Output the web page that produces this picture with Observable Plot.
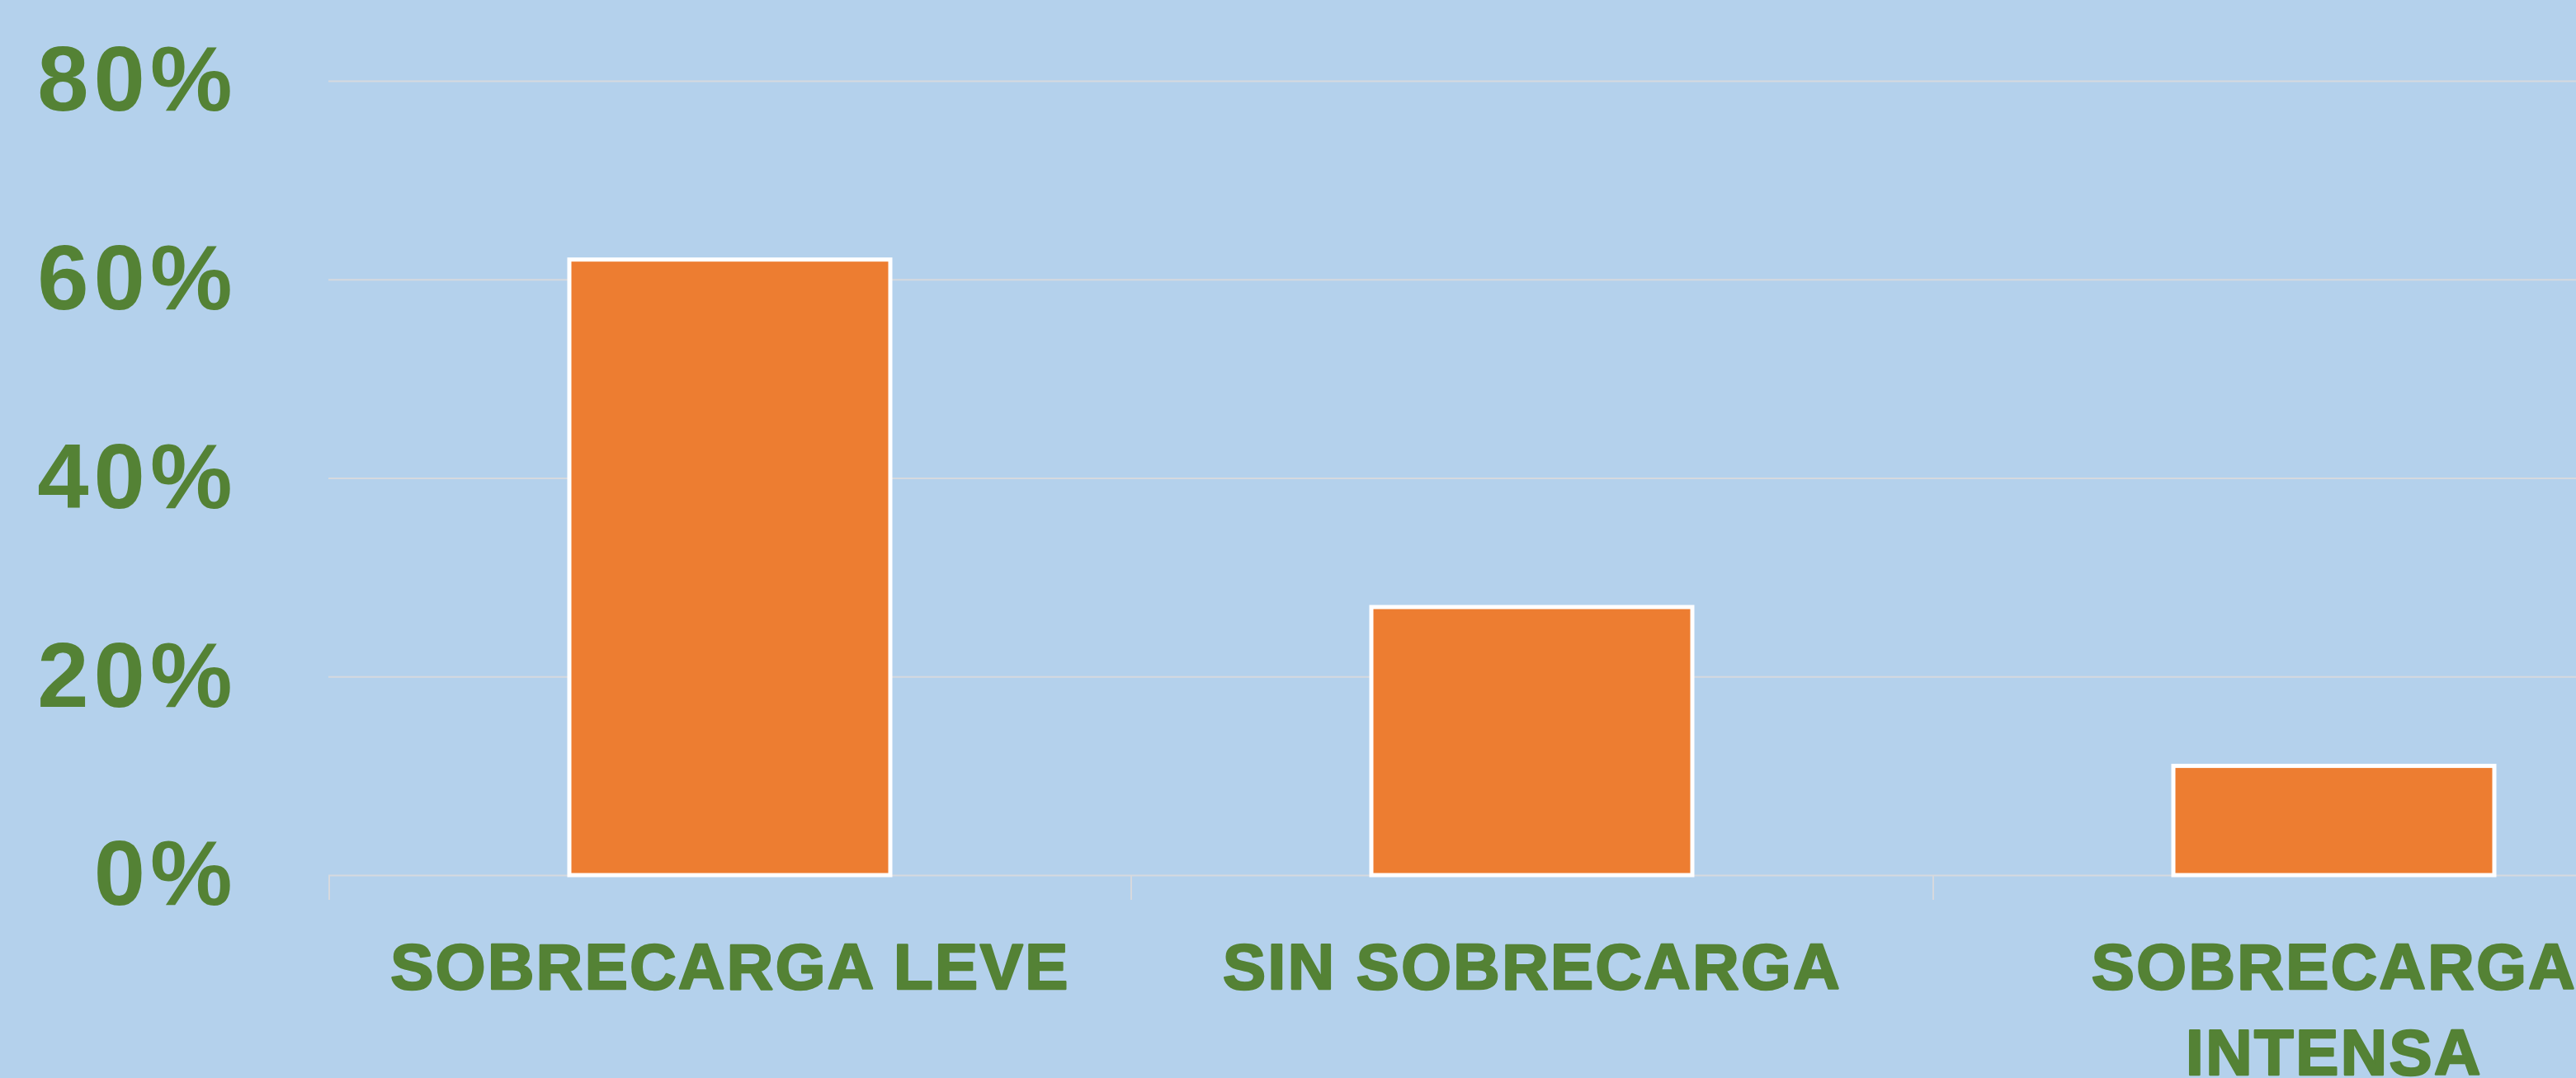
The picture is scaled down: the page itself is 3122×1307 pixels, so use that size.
<!DOCTYPE html>
<html>
<head>
<meta charset="utf-8">
<script src="https://cdn.jsdelivr.net/npm/d3@7"></script>
<script src="https://cdn.jsdelivr.net/npm/@observablehq/plot@0.6"></script>
<style>
  html, body { margin: 0; padding: 0; background: #b4d1ec; overflow: hidden; }
  #chart svg { display: block; }
  #chart g[aria-label="y-axis tick label"] text { letter-spacing: 6px; }
  #chart g[aria-label="text"] text { letter-spacing: 2.5px; }
</style>
</head>
<body>
<div id="chart"></div>
<script>
const categories = ["SOBRECARGA LEVE", "SIN SOBRECARGA", "SOBRECARGA INTENSA"];
const values = [62, 27, 11];
const yTicks = [0, 20, 40, 60, 80];

const data = categories.map((c, i) => ({category: c, value: values[i]}));

const W = 3122, H = 1307;
const left = 398, step = 972;
const green = "#548235";
const font = "'Liberation Sans', Arial, sans-serif";

const chart = Plot.plot({
  width: W,
  height: H,
  marginLeft: left,
  marginRight: 0,
  marginTop: 98,
  marginBottom: 246,
  style: {background: "#b4d1ec", fontFamily: font, overflow: "hidden"},
  x: {type: "band", domain: categories, range: [left, left + 3 * step], paddingInner: 0.6, paddingOuter: 0.3, axis: null},
  y: {domain: [0, 80], axis: null, label: null},
  marks: [
    Plot.gridY(yTicks, {stroke: "#d6d9de", strokeOpacity: 1, strokeWidth: 2}),
    Plot.ruleX(categories, {x: d => d, y1: 0, y2: -2.5, dx: -step / 2, stroke: "#d6d9de", strokeWidth: 2}),
    Plot.barY(data, {x: "category", y: "value", fill: "#ed7d31", stroke: "#ffffff", strokeWidth: 5}),
    Plot.axisY(yTicks, {
      label: null, tickSize: 0, tickPadding: 111, tickFormat: d => d + "%",
      fontSize: 112, fontWeight: "bold", fill: green, stroke: green, strokeWidth: 3
    }),
    Plot.text(data, {
      x: "category", y: 0, text: "category", dy: 63,
      lineAnchor: "top", lineWidth: 10.8, lineHeight: 1.34,
      fontSize: 78, fontWeight: "bold", fill: green, stroke: green, strokeWidth: 2.5
    })
  ]
});
document.getElementById("chart").appendChild(chart);
</script>
</body>
</html>
